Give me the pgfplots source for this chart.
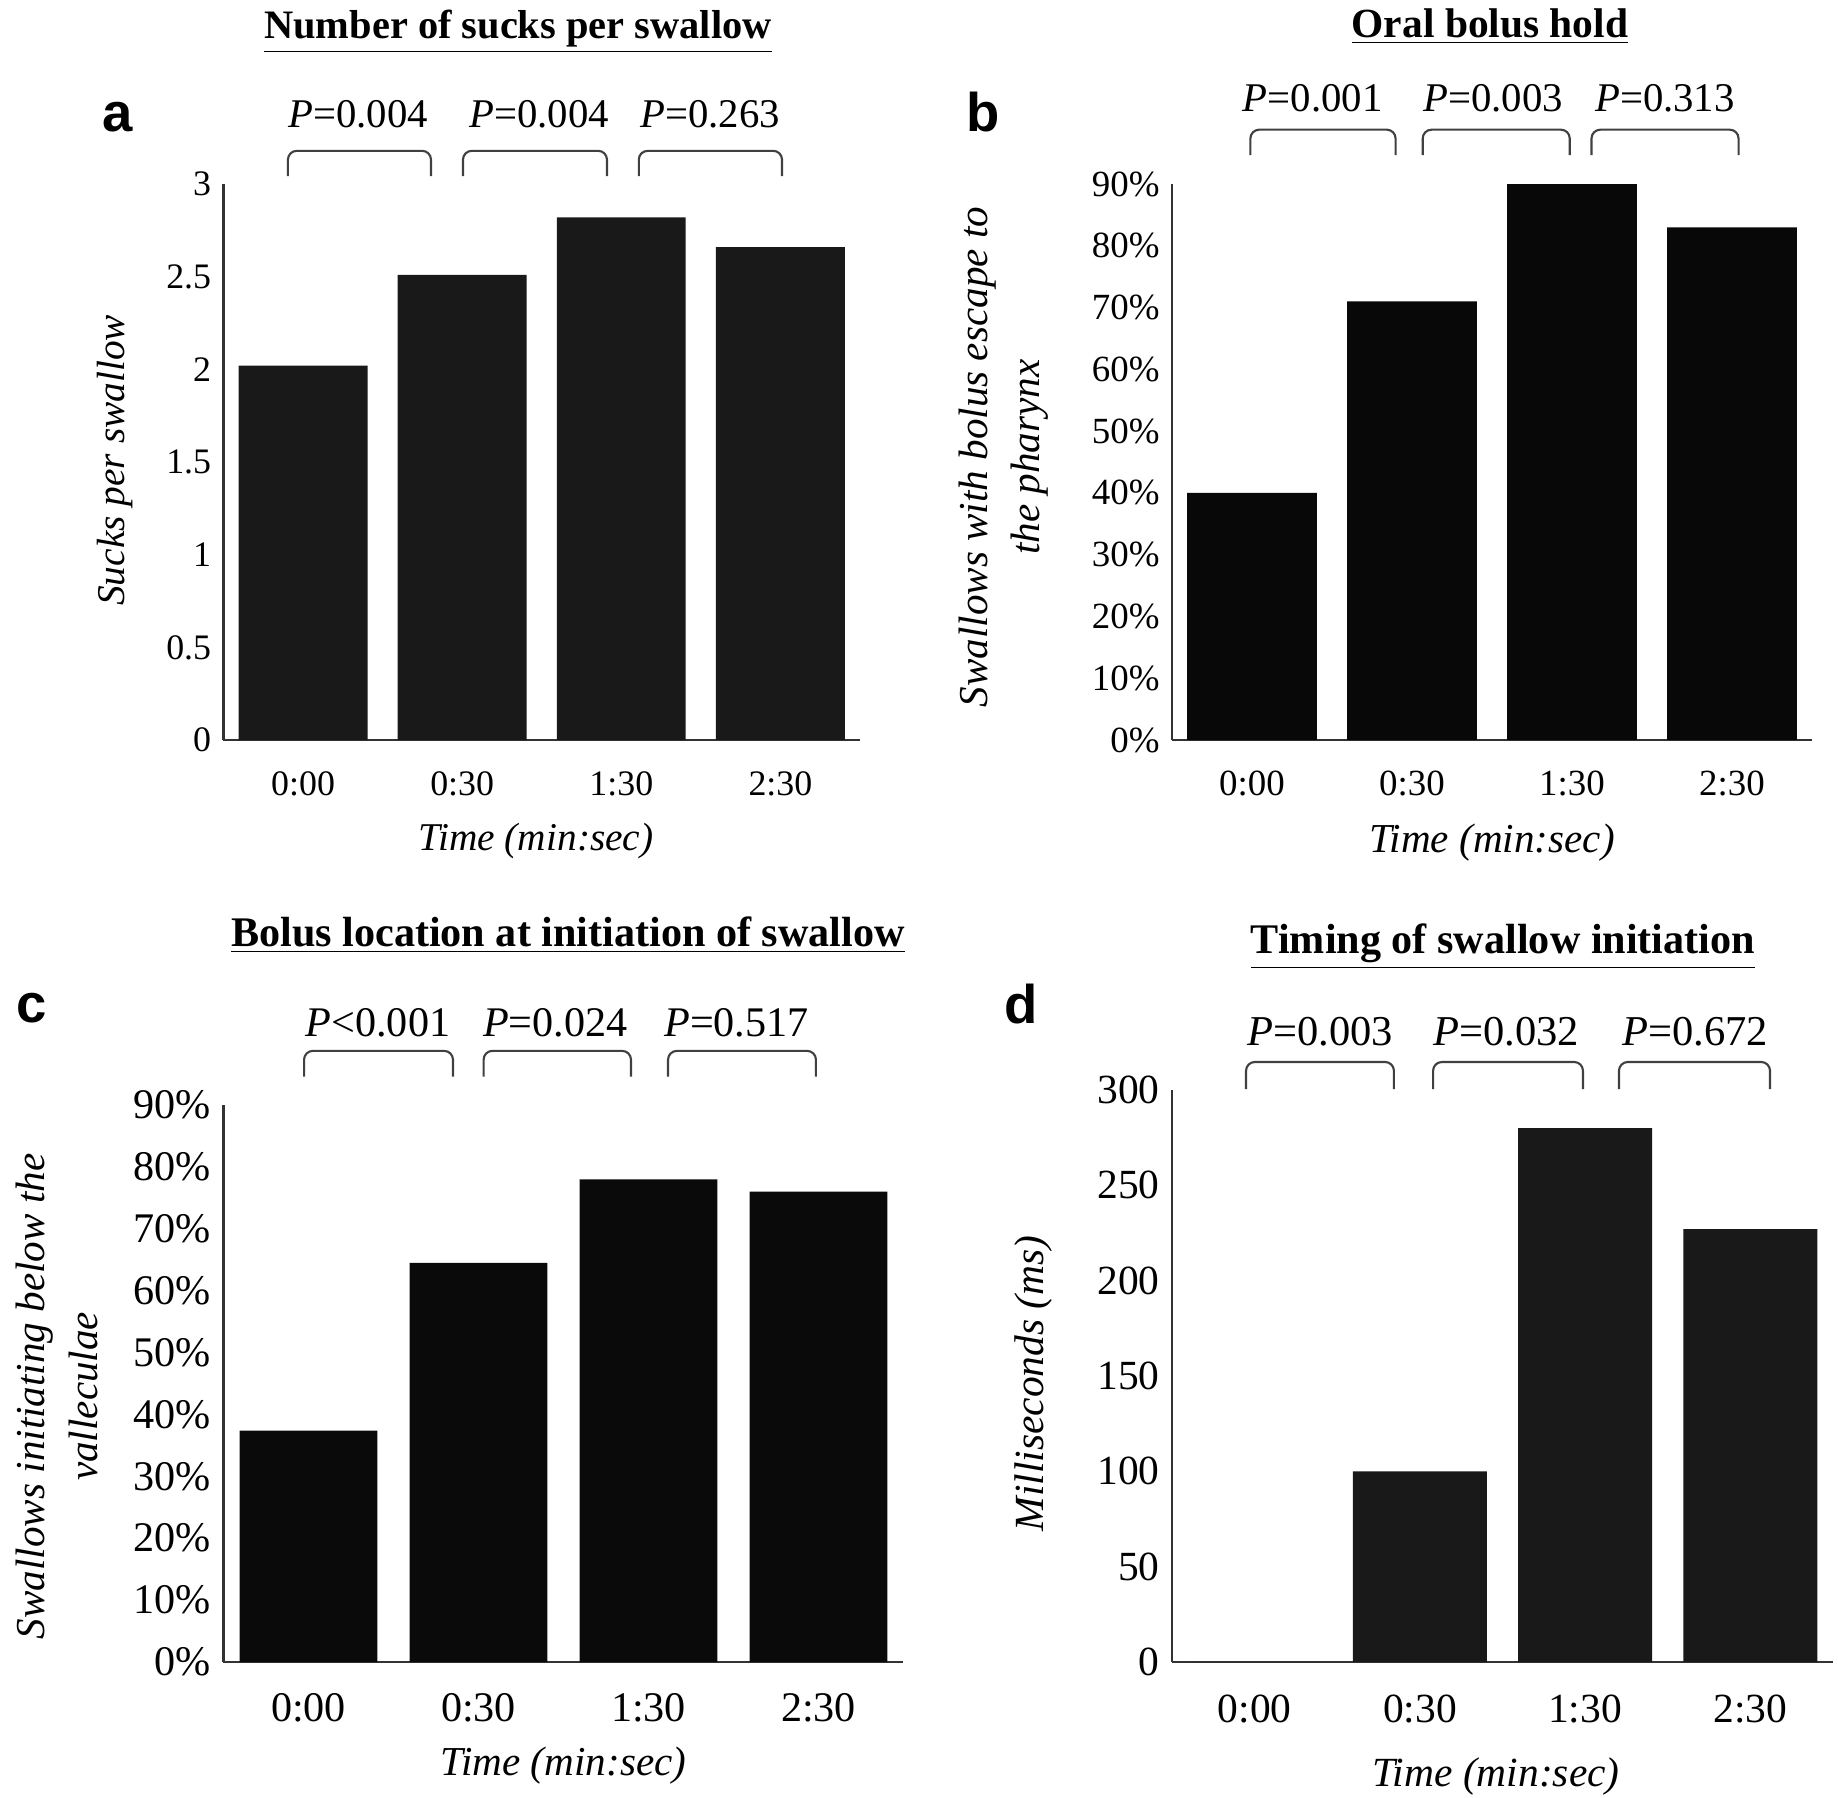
\documentclass[border=0pt]{standalone}
\usepackage{fontspec}
\setmainfont{Liberation Serif}
\newfontfamily\lettfont{Liberation Sans}
\usepackage{pgfplots}
\pgfplotsset{compat=1.18}
\tikzset{bracket/.style={line width=0.6pt, black!75, rounded corners=2.5pt}}
\begin{document}
\begin{tikzpicture}
\useasboundingbox (0,0) rectangle (18.38,-17.97);
\pgfplotsset{
 panel/.style={
  scale only axis, ybar, bar width=0.81, xmin=-0.5, xmax=3.5, ymin=0,
  xtick={0,1,2,3}, xticklabels={0:00,0:30,1:30,2:30},
  axis lines=left, axis line style={-, line width=0.7pt, black!80},
  major tick length=0pt, clip=false, enlargelimits=false,
  ylabel style={anchor=center, align=center},
  xlabel style={anchor=center},
 },
}
% ---------------- Panel a
\begin{axis}[panel, width=6.365cm, height=5.56cm, anchor=south west, at={(2.235cm,-7.40cm)}, ymax=3,
 ytick={0,0.5,1,1.5,2,2.5,3}, yticklabels={0,0.5,1,1.5,2,2.5,3},
 tick label style={font=\fontsize{10.2}{12}\selectfont},
 xticklabel style={yshift=-0.19cm},
 label style={font=\fontsize{11.2}{14}\selectfont\itshape},
 ylabel={Sucks per swallow}, ylabel style={at={(axis description cs:-0.1705,0.503)}},
 xlabel={Time (min:sec)}, xlabel style={at={(axis description cs:0.491,-0.182)}},
]
\addplot[fill=black!90, draw=none] coordinates {(0,2.02) (1,2.51) (2,2.82) (3,2.66)};
\draw[bracket] (axis cs:-0.095,3.043) -- (axis cs:-0.095,3.179) -- (axis cs:0.804,3.179) -- (axis cs:0.804,3.043);
\draw[bracket] (axis cs:1.005,3.043) -- (axis cs:1.005,3.179) -- (axis cs:1.91,3.179) -- (axis cs:1.91,3.043);
\draw[bracket] (axis cs:2.11,3.043) -- (axis cs:2.11,3.179) -- (axis cs:3.01,3.179) -- (axis cs:3.01,3.043);
\node[anchor=base, font=\fontsize{11.6}{14}\selectfont] at (axis cs:0.345,3.304) {\textit{P}=0.004};
\node[anchor=base, font=\fontsize{11.6}{14}\selectfont] at (axis cs:1.483,3.304) {\textit{P}=0.004};
\node[anchor=base, font=\fontsize{11.6}{14}\selectfont] at (axis cs:2.558,3.304) {\textit{P}=0.263};
\end{axis}
% ---------------- Panel b
\begin{axis}[panel, width=6.40cm, height=5.56cm, anchor=south west, at={(11.72cm,-7.40cm)}, ymax=90,
 ytick={0,10,20,30,40,50,60,70,80,90}, yticklabels={0\%,10\%,20\%,30\%,40\%,50\%,60\%,70\%,80\%,90\%},
 tick label style={font=\fontsize{10.5}{12}\selectfont},
 xticklabel style={yshift=-0.19cm},
 label style={font=\fontsize{11.7}{15}\selectfont\itshape},
 ylabel={Swallows with bolus escape to\\the pharynx}, ylabel style={at={(axis description cs:-0.263,0.509)}},
 xlabel={Time (min:sec)}, xlabel style={at={(axis description cs:0.50,-0.184)}},
]
\addplot[fill=black!97, draw=none] coordinates {(0,40) (1,71) (2,90) (3,83)};
\draw[bracket] (axis cs:-0.01,94.7) -- (axis cs:-0.01,98.8) -- (axis cs:0.8975,98.8) -- (axis cs:0.8975,94.7);
\draw[bracket] (axis cs:1.067,94.7) -- (axis cs:1.067,98.8) -- (axis cs:1.986,98.8) -- (axis cs:1.986,94.7);
\draw[bracket] (axis cs:2.122,94.7) -- (axis cs:2.122,98.8) -- (axis cs:3.041,98.8) -- (axis cs:3.041,94.7);
\node[anchor=base, font=\fontsize{11.6}{14}\selectfont] at (axis cs:0.379,101.7) {\textit{P}=0.001};
\node[anchor=base, font=\fontsize{11.6}{14}\selectfont] at (axis cs:1.508,101.7) {\textit{P}=0.003};
\node[anchor=base, font=\fontsize{11.6}{14}\selectfont] at (axis cs:2.581,101.7) {\textit{P}=0.313};
\end{axis}
% ---------------- Panel c
\begin{axis}[panel, width=6.80cm, height=5.57cm, anchor=south west, at={(2.235cm,-16.62cm)}, ymax=90,
 ytick={0,10,20,30,40,50,60,70,80,90}, yticklabels={0\%,10\%,20\%,30\%,40\%,50\%,60\%,70\%,80\%,90\%},
 tick label style={font=\fontsize{12}{14}\selectfont},
 xticklabel style={yshift=-0.19cm},
 label style={font=\fontsize{11.7}{15}\selectfont\itshape},
 ylabel={Swallows initiating below the\\valleculae}, ylabel style={at={(axis description cs:-0.245,0.477)}},
 xlabel={Time (min:sec)}, xlabel style={at={(axis description cs:0.50,-0.186)}},
]
\addplot[fill=black!96, draw=none] coordinates {(0,37.4) (1,64.5) (2,78) (3,76)};
\draw[bracket] (axis cs:-0.026,94.6) -- (axis cs:-0.026,98.75) -- (axis cs:0.85,98.75) -- (axis cs:0.85,94.6);
\draw[bracket] (axis cs:1.03,94.6) -- (axis cs:1.03,98.75) -- (axis cs:1.897,98.75) -- (axis cs:1.897,94.6);
\draw[bracket] (axis cs:2.115,94.6) -- (axis cs:2.115,98.75) -- (axis cs:2.985,98.75) -- (axis cs:2.985,94.6);
\node[anchor=base, font=\fontsize{12}{14}\selectfont] at (axis cs:0.409,101.0) {\textit{P}<0.001};
\node[anchor=base, font=\fontsize{12}{14}\selectfont] at (axis cs:1.452,101.0) {\textit{P}=0.024};
\node[anchor=base, font=\fontsize{12}{14}\selectfont] at (axis cs:2.518,101.0) {\textit{P}=0.517};
\end{axis}
% ---------------- Panel d
\begin{axis}[panel, width=6.61cm, height=5.72cm, anchor=south west, at={(11.72cm,-16.62cm)}, ymax=300,
 ytick={0,50,100,150,200,250,300}, yticklabels={0,50,100,150,200,250,300},
 tick label style={font=\fontsize{11.8}{14}\selectfont},
 xticklabel style={yshift=-0.20cm},
 label style={font=\fontsize{11.8}{15}\selectfont\itshape},
 ylabel={Milliseconds (ms)}, ylabel style={at={(axis description cs:-0.21,0.487)}},
 xlabel={Time (min:sec)}, xlabel style={at={(axis description cs:0.49,-0.200)}},
]
\addplot[fill=black!90, draw=none] coordinates {(0,0) (1,100) (2,280) (3,227)};
\draw[bracket] (axis cs:-0.052,300.5) -- (axis cs:-0.052,314.7) -- (axis cs:0.843,314.7) -- (axis cs:0.843,300.5);
\draw[bracket] (axis cs:1.08,300.5) -- (axis cs:1.08,314.7) -- (axis cs:1.987,314.7) -- (axis cs:1.987,300.5);
\draw[bracket] (axis cs:2.205,300.5) -- (axis cs:2.205,314.7) -- (axis cs:3.119,314.7) -- (axis cs:3.119,300.5);
\node[anchor=base, font=\fontsize{12.1}{14}\selectfont] at (axis cs:0.398,323.3) {\textit{P}=0.003};
\node[anchor=base, font=\fontsize{12.1}{14}\selectfont] at (axis cs:1.521,323.3) {\textit{P}=0.032};
\node[anchor=base, font=\fontsize{12.1}{14}\selectfont] at (axis cs:2.665,323.3) {\textit{P}=0.672};
\end{axis}
% ---------------- Titles and panel letters
\node[anchor=base, font=\fontsize{11.5}{14}\selectfont\bfseries] at (5.18,-0.38) {\underline{Number of sucks per swallow}};
\node[anchor=base, font=\fontsize{11.8}{14}\selectfont\bfseries] at (14.90,-0.37) {\underline{Oral bolus hold}};
\node[anchor=base, font=\fontsize{12}{14}\selectfont\bfseries] at (5.68,-9.46) {\underline{Bolus location at initiation of swallow}};
\node[anchor=base, font=\fontsize{12}{14}\selectfont\bfseries] at (15.03,-9.53) {\underline{Timing of swallow initiation}};
\node[anchor=base, font=\lettfont\bfseries\fontsize{15.5}{18}\selectfont] at (1.18,-1.31) {a};
\node[anchor=base, font=\lettfont\bfseries\fontsize{15.5}{18}\selectfont] at (9.83,-1.31) {b};
\node[anchor=base, font=\lettfont\bfseries\fontsize{15.5}{18}\selectfont] at (0.32,-10.22) {c};
\node[anchor=base, font=\lettfont\bfseries\fontsize{15.5}{18}\selectfont] at (10.21,-10.23) {d};
\end{tikzpicture}
\end{document}
